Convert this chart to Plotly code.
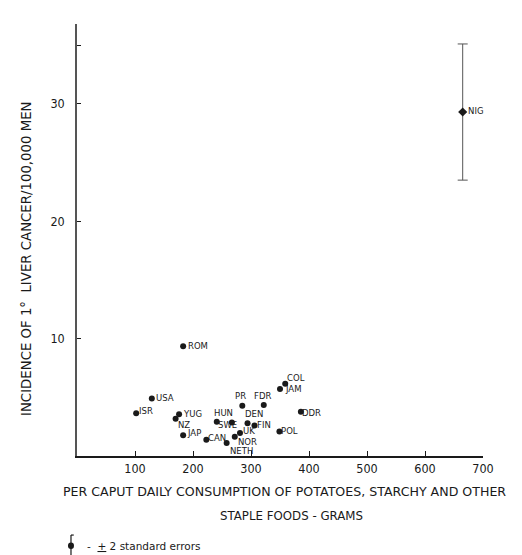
import plotly.graph_objects as go

# ---- data ----
countries = ["ROM", "COL", "JAM", "USA", "PR", "FDR", "ISR", "YUG", "NZ", "DDR",
             "SWE", "HUN", "DEN", "FIN", "POL", "JAP", "CAN", "UK", "NOR", "NETH"]
consumption = [183, 359, 350, 129, 285, 322, 102, 176, 170, 386,
               241, 267, 294, 306, 349, 183, 223, 281, 272, 258]
incidence = [9.35, 6.15, 5.7, 4.9, 4.27, 4.35, 3.65, 3.56, 3.18, 3.76,
             2.92, 2.86, 2.8, 2.6, 2.08, 1.77, 1.38, 1.96, 1.65, 1.1]

nig_name = ["NIG"]
nig_consumption = [665]
nig_incidence = [29.3]
nig_err_plus = [5.8]
nig_err_minus = [5.8]

x_ticks = [100, 200, 300, 400, 500, 600, 700]
y_ticks = [10, 20, 30, 35]
y_tick_text = ["10", "20", "30", ""]

# label placement (pixel offsets from each dot; style only)
lab_dx = [4, 1, 4, 3, -2, -1, 2, 3, 1, 0, 0, -8, 6, 2, 1, 3, 1, 2, 2, 2]
lab_dy = [0, -6, 0, 0, -10, -9, -2, 0, 6, 1, 3, -9, -9, 0, -1, -2, -2, -2, 5, 8]
lab_anchor = ["left", "left", "left", "left", "center", "center", "left", "left", "left", "left",
              "left", "center", "center", "left", "left", "left", "left", "left", "left", "left"]

INK = "#1a1a1a"
FONT = "DejaVu Sans"

fig = go.Figure()
fig.add_trace(go.Scatter(
    x=consumption, y=incidence, mode="markers",
    marker=dict(color=INK, size=6),
    cliponaxis=False, showlegend=False, hoverinfo="skip"))
fig.add_trace(go.Scatter(
    x=nig_consumption, y=nig_incidence, text=nig_name, mode="markers+text",
    textposition="middle right",
    marker=dict(color=INK, size=7, symbol="diamond"),
    textfont=dict(family=FONT, size=8.5, color=INK),
    error_y=dict(type="data", symmetric=False, array=nig_err_plus,
                 arrayminus=nig_err_minus, color="#555", thickness=1, width=5),
    cliponaxis=False, showlegend=False, hoverinfo="skip"))

for name, cx, cy, dx, dy, anc in zip(countries, consumption, incidence, lab_dx, lab_dy, lab_anchor):
    fig.add_annotation(x=cx, y=cy, text=name, showarrow=False, xanchor=anc, yanchor="middle",
                       xshift=dx, yshift=-dy, borderpad=0,
                       font=dict(family=FONT, size=8.5, color=INK))

fig.update_xaxes(range=[0, 700], tickvals=x_ticks, ticks="inside", ticklen=5,
                 tickcolor=INK, showline=True, linecolor=INK, linewidth=2,
                 showgrid=False, zeroline=False,
                 tickfont=dict(family="DejaVu Sans Condensed", size=12.5, color=INK))
fig.update_yaxes(range=[0, 36.8], tickvals=y_ticks, ticktext=y_tick_text,
                 ticks="inside", ticklen=4,
                 tickcolor=INK, showline=True, linecolor="#555", linewidth=1.5,
                 showgrid=False, zeroline=False, ticklabelstandoff=8,
                 tickfont=dict(family="DejaVu Sans Condensed", size=12.5, color=INK))

fig.add_annotation(text="PER CAPUT DAILY CONSUMPTION OF POTATOES, STARCHY AND OTHER",
                   xref="paper", yref="paper", x=0.51, y=-0.083, showarrow=False,
                   font=dict(family=FONT, size=12.6, color=INK),
                   xanchor="center", yanchor="middle")
fig.add_annotation(text="STAPLE FOODS - GRAMS",
                   xref="paper", yref="paper", x=0.528, y=-0.139, showarrow=False,
                   font=dict(family=FONT, size=11.8, color=INK),
                   xanchor="center", yanchor="middle")
fig.add_annotation(text="INCIDENCE OF 1°  LIVER CANCER/100,000 MEN",
                   xref="paper", yref="paper", x=-0.1256, y=0.456, showarrow=False,
                   font=dict(family=FONT, size=13.3, color=INK), textangle=-90,
                   xanchor="center", yanchor="middle")
fig.add_annotation(text="-  <u>+</u> 2 standard errors",
                   xref="paper", yref="paper", x=0.02, y=-0.208, showarrow=False,
                   font=dict(family=FONT, size=10.5, color=INK),
                   xanchor="left", yanchor="middle")

# legend key glyph (error bar symbol)
fig.add_shape(type="line", xref="paper", yref="paper", x0=-0.0148, x1=-0.0148,
              y0=-0.183, y1=-0.234, line=dict(color=INK, width=1.2))
fig.add_shape(type="line", xref="paper", yref="paper", x0=-0.0148, x1=-0.008,
              y0=-0.183, y1=-0.183, line=dict(color=INK, width=1.2))
fig.add_shape(type="circle", xref="paper", yref="paper", x0=-0.0222, x1=-0.0074,
              y0=-0.2005, y1=-0.2155, fillcolor=INK, line=dict(color=INK, width=0))

fig.update_layout(width=522, height=555, margin=dict(l=69, r=47, t=16, b=107),
                  paper_bgcolor="white", plot_bgcolor="white",
                  font=dict(family=FONT, color=INK))
fig.write_html("out.html")
